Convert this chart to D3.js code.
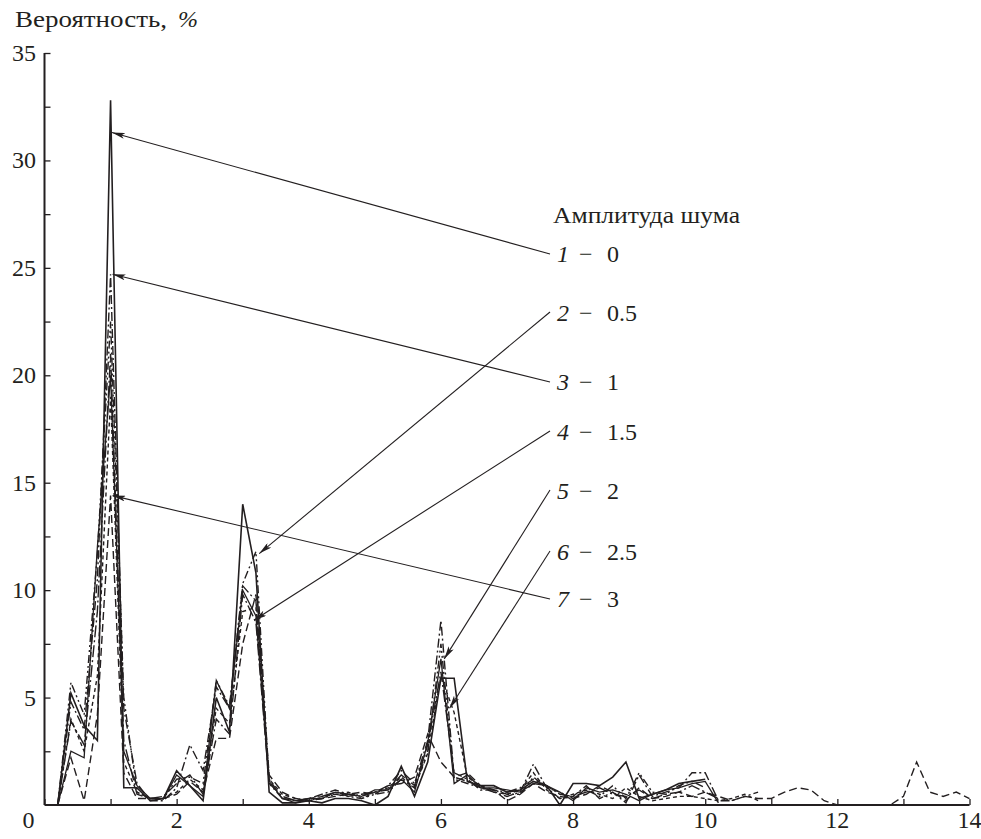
<!DOCTYPE html>
<html><head><meta charset="utf-8">
<script src="https://cdn.jsdelivr.net/npm/d3@7"></script>
<style>
html,body{margin:0;padding:0;background:#fff;}
svg{display:block;}
</style></head>
<body>
<script>
// ---- data ----
const xValues = d3.range(1, 51).map(i => +(i * 0.2).toFixed(1)); // 0.2 .. 10.0
const xValuesLong = d3.range(1, 71).map(i => +(i * 0.2).toFixed(1)); // 0.2 .. 14.0

const s1 = [0,5.2,3.7,3.0,32.8,0.8,0.8,0.2,0.3,1.6,0.9,0.2,5.0,3.4,14.0,10.8,0.6,0.1,0.1,0.2,0.1,0.3,0.3,0.2,0.0,0.4,1.8,0.4,2.0,5.9,5.9,1.1,0.9,0.9,0.6,0.7,1.1,0.9,0.0,1.0,1.0,0.9,1.3,2.0,0.3,0.5,0.7,1.0,1.1,1.2];
const s2 = [0,5.7,4.2,11.7,22.5,5.0,0.6,0.3,0.3,1.2,1.3,1.0,5.8,4.6,10.3,11.8,1.0,0.3,0.2,0.2,0.3,0.5,0.4,0.3,0.5,0.6,1.2,0.8,2.5,7.5,1.2,1.0,0.8,0.7,0.5,0.5,1.3,0.8,0.6,0.3,0.7,0.4,0.9,0.3,1.5,0.6,0.5,0.9,1.1,0.8];
const s3 = [0,4.8,3.5,10.5,24.7,4.5,1.0,0.2,0.2,0.8,2.8,1.6,5.5,4.5,10.2,9.5,1.2,0.3,0.2,0.3,0.5,0.7,0.5,0.4,0.6,0.9,1.6,1.0,3.0,8.6,1.3,1.1,0.8,0.6,0.4,0.6,1.9,0.8,0.3,0.4,0.9,0.3,0.6,0.1,1.4,0.4,0.6,0.8,1.5,1.5,0.2,0.2,0.4,0.6];
const s4 = [0,3.9,2.8,9.0,21.0,3.0,0.5,0.3,0.4,1.0,1.4,0.5,4.0,3.3,9.8,8.5,1.0,0.4,0.2,0.3,0.4,0.6,0.4,0.5,0.6,0.7,1.4,0.9,2.8,6.2,1.5,1.2,0.7,0.7,0.6,0.8,1.2,0.9,0.5,0.4,0.6,0.8,0.5,0.4,0.7,0.3,0.5,0.6,0.9,0.6,0.3];
const s5 = [0,2.5,2.2,12.0,20.0,2.5,0.9,0.3,0.3,1.4,0.9,0.4,5.8,4.5,10.0,8.8,1.1,0.3,0.1,0.3,0.3,0.6,0.5,0.4,0.7,0.7,1.2,0.6,2.9,6.8,1.0,1.4,0.8,0.8,0.7,0.6,1.0,0.9,0.6,0.2,0.8,0.6,0.7,0.5,0.2,0.5,0.7,0.8,1.0,1.1,0.1];
const s6 = [0,4.0,2.5,6.0,19.0,2.0,0.6,0.3,0.3,0.6,1.2,0.7,4.5,3.8,9.0,9.2,1.2,0.5,0.3,0.2,0.4,0.5,0.6,0.3,0.6,0.8,1.3,0.8,2.4,6.0,4.3,1.3,0.9,0.6,0.5,0.7,1.5,0.7,0.3,0.5,0.7,0.5,0.3,0.8,0.4,0.2,0.3,0.4,0.4,0.3,0.2,0.3,0.5,0.2];
const s7 = [0,2.2,0.2,4.2,14.4,1.5,0.3,0.3,0.3,0.5,1.1,0.6,3.1,3.1,7.5,9.8,1.4,0.6,0.3,0.2,0.3,0.4,0.5,0.6,0.5,0.9,1.0,1.3,3.3,2.0,1.3,1.5,0.9,0.7,0.2,0.5,1.0,0.6,0.4,0.3,0.5,0.9,0.6,0.2,0.8,0.3,0.4,0.6,0.4,0.6,0.4,0.2,0.4,0.3,0.3,0.6,0.8,0.7,0.2,0,0,0,0,0,0.4,2.0,0.6,0.4,0.6,0.3];

const seriesList = [s1, s2, s3, s4, s5, s6, s7];
const seriesDash = ["", "8,3,2,3,2,3", "9,3,2,3", "12,3,2,3", "", "4,3", "8,4"];
const seriesWidth = [1.6, 1.4, 1.4, 1.4, 1.3, 1.4, 1.4];

const legendTitle = "Амплитуда шума";
const legendNums = ["1", "2", "3", "4", "5", "6", "7"];
const legendAmps = ["0", "0.5", "1", "1.5", "2", "2.5", "3"];
// arrow targets (data coords)
const arrowX = [1.02, 3.25, 1.03, 3.17, 6.05, 6.13, 1.03];
const arrowY = [31.3, 11.7, 24.7, 8.6, 6.8, 4.5, 14.4];

const xTicksMajor = [0, 2, 4, 6, 8, 10, 12, 14];
const yTicksMajor = [5, 10, 15, 20, 25, 30, 35];
const yTitle = "Вероятность,";

// ---- drawing ----
const W = 981, H = 839;
const FONT = "'Liberation Serif', 'Times New Roman', Times, serif";
const svg = d3.select("body").append("svg").attr("width", W).attr("height", H)
  .attr("font-family", FONT);
const x = d3.scaleLinear().domain([0, 14]).range([44.5, 969.5]);
const y = d3.scaleLinear().domain([0, 35]).range([805, 53]);
const ink = "#231f20";

// lines
const line = d3.line().x(d => x(d[0])).y(d => y(d[1]));
seriesList.forEach((s, i) => {
  const xs = s.length > 50 ? xValuesLong : xValues;
  const pts = s.map((v, j) => [xs[j], v]);
  svg.append("path").datum(pts)
    .attr("d", line)
    .attr("fill", "none")
    .attr("stroke", ink)
    .attr("stroke-width", seriesWidth[i])
    .attr("stroke-linejoin", "miter")
    .attr("stroke-dasharray", seriesDash[i] || null);
});

// axes
const xAxis = d3.axisBottom(x).tickValues(d3.range(0, 15, 1)).tickSize(-6).tickFormat("");
const gx = svg.append("g").attr("transform", `translate(0,${y(0)})`).call(xAxis);
const yAxis = d3.axisLeft(y).tickValues(d3.range(2.5, 35.1, 2.5)).tickSize(-6).tickFormat("");
const gy = svg.append("g").attr("transform", `translate(${x(0)},0)`).call(yAxis);
[gx, gy].forEach(g => {
  g.select(".domain").attr("stroke", ink).attr("stroke-width", 2);
  g.selectAll(".tick line").attr("stroke", ink).attr("stroke-width", 1.3);
});
gy.select(".domain").attr("d", `M0,${y(35)}V${y(0)}`);
gx.select(".domain").attr("d", `M${x(0)},0H${x(14)}`);

// tick labels
svg.selectAll(".xl").data(xTicksMajor).enter().append("text")
  .attr("fill", ink)
  .attr("x", d => d === 0 ? x(0) - 16 : x(d))
  .attr("y", 828).attr("text-anchor", "middle")
  .attr("font-size", 24).text(d => d);
svg.selectAll(".yl").data(yTicksMajor).enter().append("text")
  .attr("fill", ink)
  .attr("x", 36).attr("y", d => y(d) + 8).attr("text-anchor", "end")
  .attr("font-size", 24).text(d => d);

// title
svg.append("text").attr("fill", ink)
  .attr("x", 15).attr("y", 27).attr("font-size", 24)
  .attr("textLength", 152).attr("lengthAdjust", "spacingAndGlyphs").text(yTitle);
svg.append("text").attr("fill", ink).attr("font-style", "italic")
  .attr("x", 178).attr("y", 27).attr("font-size", 24).text("%");

// legend
svg.append("text").attr("fill", ink)
  .attr("x", 553).attr("y", 223).attr("font-size", 24)
  .attr("textLength", 187).attr("lengthAdjust", "spacingAndGlyphs").text(legendTitle);
const legY = [254, 313, 382, 432, 491, 552, 599];
const defs = svg.append("defs");
defs.append("marker").attr("id", "ah").attr("viewBox", "0 0 13 6")
  .attr("refX", 13).attr("refY", 3).attr("markerWidth", 13).attr("markerHeight", 6)
  .attr("markerUnits", "userSpaceOnUse").attr("orient", "auto")
  .append("path").attr("d", "M0,0L13,3L0,6L3,3Z").attr("fill", ink);

legendNums.forEach((n, i) => {
  const by = legY[i] + 8;
  svg.append("text").attr("fill", ink).attr("font-style", "italic")
    .attr("x", 557).attr("y", by).attr("font-size", 24).text(n);
  svg.append("text").attr("fill", ink)
    .attr("x", 579).attr("y", by).attr("font-size", 24).text("−");
  svg.append("text").attr("fill", ink)
    .attr("x", 607).attr("y", by).attr("font-size", 24).text(legendAmps[i]);
  svg.append("line")
    .attr("x1", 550).attr("y1", legY[i] + (i === 1 || i === 3 || i === 4 || i === 5 ? -1 : 0))
    .attr("x2", x(arrowX[i])).attr("y2", y(arrowY[i]))
    .attr("stroke", ink).attr("stroke-width", 1.1)
    .attr("marker-end", "url(#ah)");
});
</script>
</body></html>
